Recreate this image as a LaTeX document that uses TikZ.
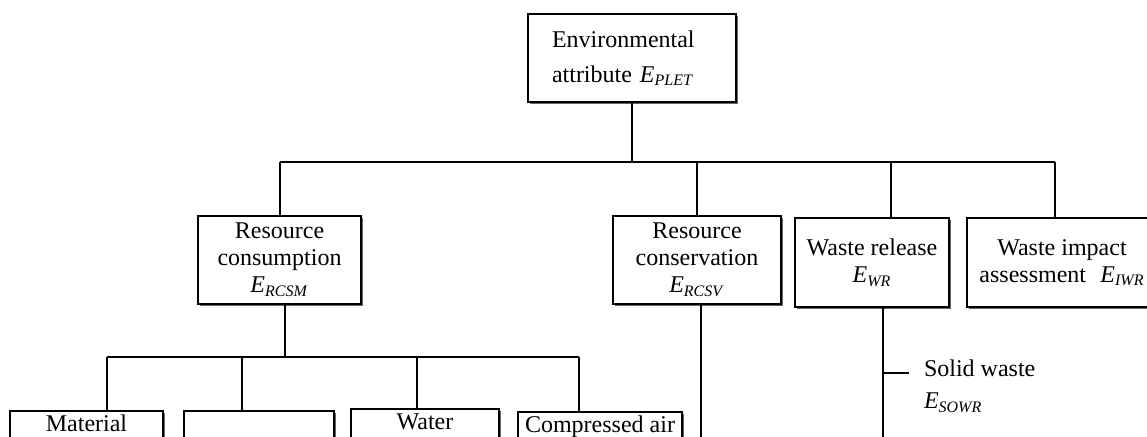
\documentclass[tikz,border=0pt]{standalone}
\usepackage{fontspec}
\setmainfont{Liberation Serif}
\usepackage{tikz}
\usetikzlibrary{shadows}

\newcommand{\Esub}[1]{\textit{E}\textsubscript{\textit{#1}}}

\begin{document}
\begin{tikzpicture}
[x = 0.5pt, y = -0.5pt,
 line width = 1pt,
 box/.style = {draw, fill = white, line width = 1pt, inner sep = 2pt,
   align = center, font = \fontsize{12}{13.5}\selectfont,
   drop shadow = {shadow xshift = 1.2pt, shadow yshift = -1.2pt,
     fill = black, opacity = 0.6}},
 lowbox/.style = {box, anchor = north, text height = 8pt, text depth = 14pt}]

\useasboundingbox (0,0) rectangle (1147,436);
\clip (0,0) rectangle (1147,436);

\node[box, minimum width = 104pt, minimum height = 44pt,
 text width = 80pt, inner xsep = 12pt, align = left,
 font = \fontsize{12}{17.5}\selectfont] (env) at (632,58)
 {Environmental\\attribute \Esub{PLET}};

\node[box, minimum width = 81.5pt, minimum height = 44pt] (rcsm) at (279.5,260)
 {Resource\\consumption\\\Esub{RCSM}};
\node[box, minimum width = 84pt, minimum height = 44pt] (rcsv) at (697,260)
 {Resource\\conservation\\\Esub{RCSV}};
\node[box, minimum width = 77pt, minimum height = 44.5pt] (wr) at (872,262.5)
 {Waste release\\\Esub{WR}};
\node[box, minimum width = 95pt, minimum height = 44.5pt] (iwr) at (1062,262.5)
 {Waste impact\\assessment\hspace{0.6em}\Esub{IWR}};

\node[lowbox, minimum width = 76.5pt] (mat) at (86.5,410) {Material};
\node[lowbox, minimum width = 75pt] (enr) at (259,410) {};
\node[lowbox, minimum width = 74pt] (wat) at (425,408) {Water};
\node[lowbox, minimum width = 82pt] (air) at (600,411) {Compressed air};

\coordinate (bL) at (280,162);
\coordinate (bW) at (891,162);
\coordinate (bR) at (1055,162);

\draw (env.south) -- (env.south |- bL);
\draw (bL) -- (bR);
\draw (bL) -- (bL |- rcsm.north);
\draw (rcsv.north) -- (rcsv.north |- bL);
\draw (bW) -- (bW |- wr.north);
\draw (bR) -- (bR |- iwr.north);

\coordinate (c0) at (285,357);
\coordinate (c1) at (107,357);
\coordinate (c2) at (242,357);
\coordinate (c3) at (417,357);
\coordinate (c4) at (579,357);

\draw (c0 |- rcsm.south) -- (c0);
\draw (c1) -- (c4);
\draw (c1) -- (c1 |- mat.north);
\draw (c2) -- (c2 |- enr.north);
\draw (c3) -- (c3 |- wat.north);
\draw (c4) -- (c4 |- air.north);

\coordinate (cvEnd) at (701,440);
\coordinate (wEnd) at (883,440);
\coordinate (sw) at (909,373);

\draw (cvEnd |- rcsv.south) -- (cvEnd);
\draw (wEnd |- wr.south) -- (wEnd);
\draw (sw -| wEnd) -- (sw);

\node[anchor = west, align = left, inner sep = 2pt,
 font = \fontsize{12}{16}\selectfont] (solid) at (919,386)
 {Solid waste\\\Esub{SOWR}};

\end{tikzpicture}
\end{document}
